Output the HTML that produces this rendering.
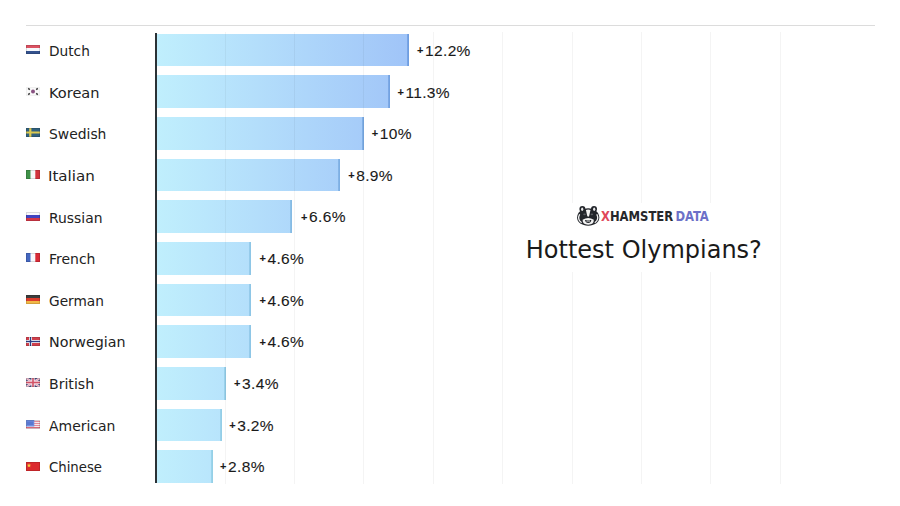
<!DOCTYPE html>
<html><head><meta charset="utf-8"><style>
html,body{margin:0;padding:0;background:#fff;}
body{width:900px;height:506px;position:relative;overflow:hidden;font-family:"Liberation Sans",sans-serif;}
.a{position:absolute;}
.top{left:26px;top:25px;width:849px;height:1px;background:#dcdcdc;}
.grid{top:32px;height:452px;width:1px;background:rgba(0,0,0,0.045);z-index:2;}
.wbox{left:510px;top:203px;width:260px;height:69px;background:#fff;z-index:3;}
.axis{left:155px;top:33px;width:2px;height:450px;background:#2b3236;z-index:3;}
.bar{left:157px;height:32.6px;background:linear-gradient(to right,#c0effd 0px,#a0c4f8 252px);background-size:252px 100%;background-repeat:no-repeat;}
.lbl{font-family:'DejaVu Sans',sans-serif;font-size:14.5px;line-height:20px;color:#222;white-space:nowrap;transform-origin:0 0;}
.val{font-size:15.5px;line-height:20px;color:#1a1a1a;-webkit-text-stroke:0.1px #1a1a1a;white-space:nowrap;z-index:4;letter-spacing:0.35px;}
.val b{font-weight:bold;font-size:11px;position:relative;top:-1.8px;margin-right:1.6px;letter-spacing:0;}
.flag{left:25.5px;width:14px;height:9px;}
.title{font-family:'DejaVu Sans',sans-serif;left:525.8px;top:234.4px;font-size:24px;z-index:4;line-height:32px;color:#1a1a1a;white-space:nowrap;}
.logo{font-family:'DejaVu Sans Condensed','DejaVu Sans',sans-serif;z-index:4;left:601.1px;top:206.8px;font-size:13.7px;line-height:18px;transform:scaleX(0.94);transform-origin:0 0;font-weight:bold;white-space:nowrap;}
</style></head><body>
<div class="a top"></div>

<div class="a grid" style="left:224.5px"></div>
<div class="a grid" style="left:293.9px"></div>
<div class="a grid" style="left:363.3px"></div>
<div class="a grid" style="left:432.7px"></div>
<div class="a grid" style="left:502.1px"></div>
<div class="a grid" style="left:571.5px"></div>
<div class="a grid" style="left:640.9px"></div>
<div class="a grid" style="left:710.3px"></div>
<div class="a grid" style="left:779.7px"></div>
<div class="a bar" style="top:33.80px;width:252.1px;box-shadow:inset -1.8px 0 0 #6f9de0"></div>
<svg class="a flag" style="top:45.00px" viewBox="0 0 14 9"><rect width="14" height="3" fill="#dc5262"/><rect y="3" width="14" height="3" fill="#f6f8fc"/><rect y="6" width="14" height="3" fill="#34528e"/><rect x="0.5" y="0.5" width="13" height="8" fill="none" stroke="rgba(0,0,0,0.13)" stroke-width="1"/></svg>
<div class="a lbl" style="left:48.60px;top:41.08px;transform:scaleX(0.9452)">Dutch</div>
<div class="a val" style="left:417.0px;top:40.98px"><b>+</b>12.2%</div>
<div class="a bar" style="top:75.45px;width:232.9px;box-shadow:inset -1.8px 0 0 #73a2e1"></div>
<svg class="a flag" style="top:86.65px" viewBox="0 0 14 9"><rect width="14" height="9" fill="#fafafa"/><circle cx="7" cy="4.5" r="2" fill="#8a5282"/><rect x="2" y="1.3" width="2" height="1.4" fill="#333" transform="rotate(35 3 2)"/><rect x="10" y="1.3" width="2" height="1.4" fill="#333" transform="rotate(-35 11 2)"/><rect x="2" y="6.3" width="2" height="1.4" fill="#333" transform="rotate(-35 3 7)"/><rect x="10" y="6.3" width="2" height="1.4" fill="#333" transform="rotate(35 11 7)"/><rect x="0.5" y="0.5" width="13" height="8" fill="none" stroke="rgba(0,0,0,0.04)" stroke-width="1"/></svg>
<div class="a lbl" style="left:48.52px;top:82.70px;transform:scaleX(1.0037)">Korean</div>
<div class="a val" style="left:397.4px;top:82.60px"><b>+</b>11.3%</div>
<div class="a bar" style="top:117.10px;width:207.0px;box-shadow:inset -1.8px 0 0 #78a9e2"></div>
<svg class="a flag" style="top:128.30px" viewBox="0 0 14 9"><rect width="14" height="9" fill="#30607e"/><rect x="3.2" width="2.2" height="9" fill="#dcc950"/><rect y="3.5" width="14" height="2" fill="#dcc950"/><rect x="0.5" y="0.5" width="13" height="8" fill="none" stroke="rgba(0,0,0,0.13)" stroke-width="1"/></svg>
<div class="a lbl" style="left:48.94px;top:124.32px;transform:scaleX(0.9576)">Swedish</div>
<div class="a val" style="left:371.8px;top:124.22px"><b>+</b>10%</div>
<div class="a bar" style="top:158.75px;width:182.8px;box-shadow:inset -1.8px 0 0 #7dafe3"></div>
<svg class="a flag" style="top:169.95px" viewBox="0 0 14 9"><rect width="4.7" height="9" fill="#3f9148"/><rect x="4.7" width="4.6" height="9" fill="#f8f8f8"/><rect x="9.3" width="4.7" height="9" fill="#d2333c"/><rect x="0.5" y="0.5" width="13" height="8" fill="none" stroke="rgba(0,0,0,0.13)" stroke-width="1"/></svg>
<div class="a lbl" style="left:48.47px;top:165.94px;transform:scaleX(1.0407)">Italian</div>
<div class="a val" style="left:348.2px;top:165.84px"><b>+</b>8.9%</div>
<div class="a bar" style="top:200.40px;width:135.3px;box-shadow:inset -1.8px 0 0 #86bbe4"></div>
<svg class="a flag" style="top:211.60px" viewBox="0 0 14 9"><rect width="14" height="3" fill="#f8f8fc"/><rect y="3" width="14" height="3" fill="#4044c0"/><rect y="6" width="14" height="3" fill="#d43848"/><rect x="0.5" y="0.5" width="13" height="8" fill="none" stroke="rgba(0,0,0,0.13)" stroke-width="1"/></svg>
<div class="a lbl" style="left:48.98px;top:207.56px;transform:scaleX(0.9577)">Russian</div>
<div class="a val" style="left:301.0px;top:207.46px"><b>+</b>6.6%</div>
<div class="a bar" style="top:242.05px;width:93.7px;box-shadow:inset -1.8px 0 0 #8ec6e6"></div>
<svg class="a flag" style="top:253.25px" viewBox="0 0 14 9"><rect width="4.7" height="9" fill="#4467c0"/><rect x="4.7" width="4.6" height="9" fill="#f8f8fc"/><rect x="9.3" width="4.7" height="9" fill="#d82a36"/><rect x="0.5" y="0.5" width="13" height="8" fill="none" stroke="rgba(0,0,0,0.13)" stroke-width="1"/></svg>
<div class="a lbl" style="left:48.67px;top:249.18px;transform:scaleX(0.9644)">French</div>
<div class="a val" style="left:259.4px;top:249.08px"><b>+</b>4.6%</div>
<div class="a bar" style="top:283.70px;width:93.7px;box-shadow:inset -1.8px 0 0 #8ec6e6"></div>
<svg class="a flag" style="top:294.90px" viewBox="0 0 14 9"><rect width="14" height="3" fill="#3c3c3c"/><rect y="3" width="14" height="3" fill="#dc3c2c"/><rect y="6" width="14" height="3" fill="#f2b846"/><rect x="0.5" y="0.5" width="13" height="8" fill="none" stroke="rgba(0,0,0,0.13)" stroke-width="1"/></svg>
<div class="a lbl" style="left:49.39px;top:290.80px;transform:scaleX(0.9461)">German</div>
<div class="a val" style="left:259.4px;top:290.70px"><b>+</b>4.6%</div>
<div class="a bar" style="top:325.35px;width:93.7px;box-shadow:inset -1.8px 0 0 #8ec6e6"></div>
<svg class="a flag" style="top:336.55px" viewBox="0 0 14 9"><rect width="14" height="9" fill="#d0404c"/><rect x="3" width="3" height="9" fill="#fff"/><rect y="3" width="14" height="3" fill="#fff"/><rect x="3.8" width="1.4" height="9" fill="#2c3c84"/><rect y="3.8" width="14" height="1.4" fill="#2c3c84"/><rect x="0.5" y="0.5" width="13" height="8" fill="none" stroke="rgba(0,0,0,0.13)" stroke-width="1"/></svg>
<div class="a lbl" style="left:48.85px;top:332.42px;transform:scaleX(0.9850)">Norwegian</div>
<div class="a val" style="left:259.4px;top:332.32px"><b>+</b>4.6%</div>
<div class="a bar" style="top:367.00px;width:68.9px;box-shadow:inset -1.8px 0 0 #93cce7"></div>
<svg class="a flag" style="top:378.20px" viewBox="0 0 14 9"><rect width="14" height="9" fill="#4c4f80"/><path d="M0 0L14 9M14 0L0 9" stroke="#f2dce8" stroke-width="2.2"/><path d="M0 0L14 9M14 0L0 9" stroke="#d77a90" stroke-width="0.6"/><rect x="5.3" width="3.4" height="9" fill="#f4e4ec"/><rect y="2.9" width="14" height="3.2" fill="#f4e4ec"/><rect x="6.2" width="1.6" height="9" fill="#d25468"/><rect y="3.7" width="14" height="1.6" fill="#d25468"/><rect x="0.5" y="0.5" width="13" height="8" fill="none" stroke="rgba(0,0,0,0.13)" stroke-width="1"/></svg>
<div class="a lbl" style="left:48.76px;top:374.04px;transform:scaleX(0.9714)">British</div>
<div class="a val" style="left:234.0px;top:373.94px"><b>+</b>3.4%</div>
<div class="a bar" style="top:408.65px;width:64.5px;box-shadow:inset -1.8px 0 0 #94cee7"></div>
<svg class="a flag" style="top:419.85px" viewBox="0 0 14 9"><rect width="14" height="9" fill="#f6e8ec"/><rect y="1" width="14" height="1" fill="#e48a98"/><rect y="3" width="14" height="1" fill="#e48a98"/><rect y="5" width="14" height="1" fill="#e48a98"/><rect y="7" width="14" height="1.2" fill="#d86878"/><rect width="8.3" height="6.5" fill="#6f8ee0"/><rect x="1" y="1.5" width="6.3" height="3.5" fill="#5a78d0"/><rect x="0.5" y="0.5" width="13" height="8" fill="none" stroke="rgba(0,0,0,0.13)" stroke-width="1"/></svg>
<div class="a lbl" style="left:49.28px;top:415.66px;transform:scaleX(0.9627)">American</div>
<div class="a val" style="left:229.2px;top:415.56px"><b>+</b>3.2%</div>
<div class="a bar" style="top:450.30px;width:55.8px;box-shadow:inset -1.8px 0 0 #95d0e7"></div>
<svg class="a flag" style="top:461.50px" viewBox="0 0 14 9"><rect width="14" height="9" fill="#dc2a2e"/><polygon points="3,1.2 3.6,2.8 5.2,2.8 3.9,3.8 4.4,5.3 3,4.4 1.6,5.3 2.1,3.8 0.8,2.8 2.4,2.8" fill="#f5d142"/><rect x="0.5" y="0.5" width="13" height="8" fill="none" stroke="rgba(0,0,0,0.13)" stroke-width="1"/></svg>
<div class="a lbl" style="left:49.00px;top:457.28px;transform:scaleX(0.9156)">Chinese</div>
<div class="a val" style="left:220.0px;top:457.18px"><b>+</b>2.8%</div>
<div class="a axis"></div><div class="a wbox"></div>
<svg class="a" style="z-index:4;left:575px;top:203px" width="26" height="25" viewBox="0 0 26 25">
<circle cx="7.4" cy="6" r="3" fill="#23262b"/><circle cx="19" cy="6" r="3" fill="#23262b"/>
<path d="M13.2 5.2 C19 5.2 24.3 9 24.3 14.6 C24.3 19.6 19.5 22.7 13.2 22.7 C6.9 22.7 2.1 19.6 2.1 14.6 C2.1 9 7.4 5.2 13.2 5.2 Z" fill="#23262b"/>
<ellipse cx="7.2" cy="6.3" rx="1.1" ry="1.7" fill="#e8e8e8"/><ellipse cx="19.2" cy="6.3" rx="1.1" ry="1.7" fill="#e8e8e8"/>
<path d="M4.6 11.2 C3.2 14 3.6 17.6 6.6 19.8" fill="none" stroke="#f2f2f2" stroke-width="1.3"/>
<path d="M21.8 11.2 C23.2 14 22.8 17.6 19.8 19.8" fill="none" stroke="#f2f2f2" stroke-width="1.3"/>
<path d="M10.9 7 Q13.2 6.1 15.5 7 L14.2 12.8 Q13.2 14.6 12.2 12.8 Z" fill="#f2f2f2"/>
<ellipse cx="9.5" cy="11.3" rx="1.3" ry="0.9" fill="#5a5d62"/><ellipse cx="16.9" cy="11.3" rx="1.3" ry="0.9" fill="#5a5d62"/>
<path d="M7.6 16.8 Q13.2 13.2 18.8 16.8 Q19 21.6 13.2 21.7 Q7.4 21.6 7.6 16.8 Z" fill="#f2f2f2"/>
<path d="M10 17.1 L16.4 17.1 Q15.9 20.1 13.2 20.1 Q10.5 20.1 10 17.1 Z" fill="#23262b"/>
<rect x="11.4" y="17.5" width="3.6" height="1" fill="#f2f2f2"/>
</svg>
<div class="a logo"><span style="color:#e0485a">X</span><span style="color:#26272b">HAMSTER</span><span style="color:#6c70c8;margin-left:2.4px">DATA</span></div>
<div class="a title">Hottest Olympians?</div>
</body></html>
